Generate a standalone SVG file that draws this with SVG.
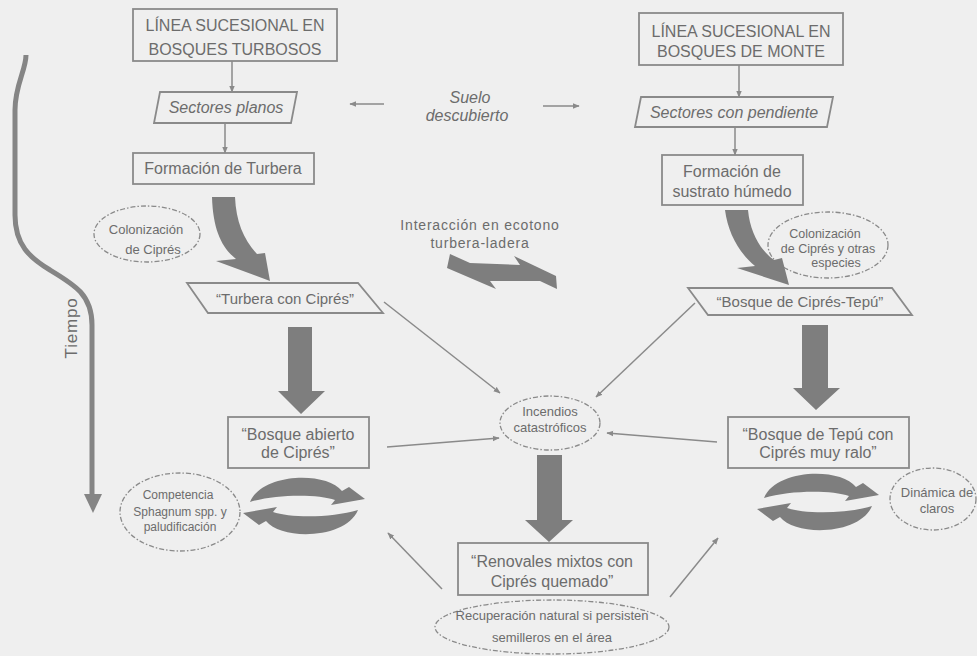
<svg xmlns="http://www.w3.org/2000/svg" width="977" height="656" viewBox="0 0 977 656">
  <style>
    .bg { fill: #efefef; }
    .box { fill: none; stroke: #8a8a8a; stroke-width: 1.8; }
    .oval { fill: none; stroke: #8a8a8a; stroke-width: 1.3; stroke-dasharray: 5 2 1.5 2; }
    .t { font-family: "Liberation Sans", Arial, sans-serif; fill: #6c6c6c; text-anchor: middle; }
    .big { font-size: 16px; }
    .it { font-style: italic; }
    .thin { fill: none; stroke: #8a8a8a; stroke-width: 1.5; marker-end: url(#head); }
    .thick { fill: #7e7e7e; }
  </style>
  <defs>
    <marker id="head" viewBox="0 0 10 10" refX="9" refY="5" markerWidth="7" markerHeight="7" markerUnits="userSpaceOnUse" orient="auto">
      <path d="M0,1 L10,5 L0,9 Z" fill="#8a8a8a"/>
    </marker>
    <!-- two curved arrows forming a cycle, centred on 0,0 -->
    <path id="half-cycle" class="thick" d="M -54,-4 C -42,-33 22,-35 38,-15 L 45,-19 L 61,-7 L 27,-1 L 31,-6 C 14,-12 -28,-12 -54,-4 Z"/>
    <g id="cycle">
      <use href="#half-cycle"/>
      <use href="#half-cycle" transform="rotate(180)"/>
    </g>
  </defs>

  <rect class="bg" x="0" y="0" width="977" height="656"/>

  <!-- time axis -->
  <g id="tiempo">
    <path d="M 26,55 C 26,70 15,85 15,110 L 15,215 C 15,245 30,258 50,270 C 75,285 92,295 92,325 L 92,497" fill="none" stroke="#858585" stroke-width="5"/>
    <polygon points="84,494 102,494 93,513" fill="#858585"/>
    <text class="t" font-size="17" letter-spacing="0.8" transform="translate(77,328) rotate(-90)">Tiempo</text>
  </g>

  <!-- left succession line -->
  <g id="linea-turbosos">
    <rect class="box" x="133" y="9" width="204" height="52"/>
    <text class="t big" x="235" y="31">LÍNEA SUCESIONAL EN</text>
    <text class="t big" x="235" y="55">BOSQUES TURBOSOS</text>
  </g>
  <g id="sectores-planos">
    <polygon class="box" points="160,92 297,92 291,123 154,123"/>
    <text class="t big it" x="226" y="113">Sectores planos</text>
  </g>
  <g id="formacion-turbera">
    <rect class="box" x="133" y="153" width="181" height="31"/>
    <text class="t big" x="223" y="174">Formación de Turbera</text>
  </g>
  <g id="colonizacion-cipres">
    <ellipse class="oval" cx="147" cy="234" rx="53" ry="28"/>
    <text class="t" font-size="13" x="146" y="234">Colonización</text>
    <text class="t" font-size="13" x="153" y="254">de Ciprés</text>
  </g>
  <g id="turbera-cipres">
    <polygon class="box" points="187,283 358,283 383,313 208,313"/>
    <text class="t" font-size="15" x="285" y="304">“Turbera con Ciprés”</text>
  </g>
  <g id="bosque-abierto">
    <rect class="box" x="228" y="417" width="141" height="51"/>
    <text class="t big" x="298" y="440">“Bosque abierto</text>
    <text class="t big" x="298" y="458">de Ciprés”</text>
  </g>
  <g id="competencia">
    <ellipse class="oval" cx="180" cy="512" rx="60" ry="39"/>
    <text class="t" font-size="12" x="178" y="499">Competencia</text>
    <text class="t" font-size="12" x="180" y="516">Sphagnum spp. y</text>
    <text class="t" font-size="12" x="180" y="531">paludificación</text>
  </g>

  <!-- centre -->
  <g id="suelo-descubierto">
    <text class="t big it" x="470" y="103">Suelo</text>
    <text class="t big it" x="467" y="121">descubierto</text>
  </g>
  <g id="ecotono">
    <text class="t" font-size="14" letter-spacing="0.8" x="480" y="230">Interacción en ecotono</text>
    <text class="t" font-size="14" letter-spacing="0.8" x="480" y="248">turbera-ladera</text>
    <path class="thick" d="M 450,254 L 470,263 L 520,265 L 514,256 L 556,276 L 557,289 L 540,281 L 490,281 L 496,289 L 447,268 Z"/>
  </g>
  <g id="incendios">
    <ellipse class="oval" cx="550" cy="423" rx="50" ry="27"/>
    <text class="t" font-size="13" x="550" y="416">Incendios</text>
    <text class="t" font-size="13" x="550" y="432">catastróficos</text>
  </g>
  <g id="renovales">
    <rect class="box" x="458" y="543" width="190" height="52"/>
    <text class="t big" x="552" y="567">“Renovales mixtos con</text>
    <text class="t big" x="552" y="587">Ciprés quemado”</text>
  </g>
  <g id="recuperacion">
    <ellipse class="oval" cx="552" cy="627" rx="117" ry="27"/>
    <text class="t" font-size="13" x="552" y="620">Recuperación natural si persisten</text>
    <text class="t" font-size="13" x="552" y="642">semilleros en el área</text>
  </g>

  <!-- right succession line -->
  <g id="linea-monte">
    <rect class="box" x="639" y="13" width="204" height="52"/>
    <text class="t big" x="741" y="37">LÍNEA SUCESIONAL EN</text>
    <text class="t big" x="741" y="57">BOSQUES DE MONTE</text>
  </g>
  <g id="sectores-pendiente">
    <polygon class="box" points="641,97 833,97 827,127 635,127"/>
    <text class="t big it" x="734" y="118">Sectores con pendiente</text>
  </g>
  <g id="formacion-sustrato">
    <rect class="box" x="662" y="155" width="141" height="50"/>
    <text class="t big" x="732" y="177">Formación de</text>
    <text class="t big" x="732" y="197">sustrato húmedo</text>
  </g>
  <g id="colonizacion-otras">
    <ellipse class="oval" cx="828" cy="245" rx="60" ry="33"/>
    <text class="t" font-size="12.5" x="825" y="238">Colonización</text>
    <text class="t" font-size="12.5" x="828" y="253">de Ciprés y otras</text>
    <text class="t" font-size="12.5" x="836" y="267">especies</text>
  </g>
  <g id="bosque-cipres-tepu">
    <polygon class="box" points="688,288 892,288 912,315 708,315"/>
    <text class="t" font-size="15" x="800" y="307">“Bosque de Ciprés-Tepú”</text>
  </g>
  <g id="bosque-tepu">
    <rect class="box" x="728" y="417" width="181" height="51"/>
    <text class="t big" x="818" y="440">“Bosque de Tepú con</text>
    <text class="t big" x="818" y="458">Ciprés muy ralo”</text>
  </g>
  <g id="dinamica-claros">
    <ellipse class="oval" cx="933" cy="499" rx="43" ry="31"/>
    <text class="t" font-size="13" x="937" y="497">Dinámica de</text>
    <text class="t" font-size="13" x="937" y="513">claros</text>
  </g>

  <!-- connectors -->
  <g id="connectors">
    <line class="thin" x1="232" y1="61" x2="232" y2="92"/>
    <line class="thin" x1="225" y1="123" x2="225" y2="153"/>
    <line class="thin" x1="739" y1="65" x2="739" y2="97"/>
    <line class="thin" x1="735" y1="127" x2="735" y2="155"/>
    <line class="thin" x1="384" y1="104" x2="350" y2="104"/>
    <line class="thin" x1="543" y1="106" x2="579" y2="106"/>
    <line class="thin" x1="384" y1="302" x2="500" y2="393"/>
    <line class="thin" x1="695" y1="303" x2="596" y2="397"/>
    <line class="thin" x1="387" y1="447" x2="499" y2="438"/>
    <line class="thin" x1="717" y1="442" x2="607" y2="433"/>
    <line class="thin" x1="442" y1="589" x2="388" y2="533"/>
    <line class="thin" x1="670" y1="597" x2="718" y2="538"/>

    <path class="thick" d="M 212,197 L 235,197 C 236,222 244,240 257,254 L 265,253 L 270,281 L 216,261 L 236,259 C 222,248 213,230 212,197 Z"/>
    <path class="thick" d="M 725,210 L 748,210 C 750,232 760,250 774,260 L 782,258 L 789,285 L 737,268 L 755,266 C 738,252 728,232 725,210 Z"/>
    <polygon class="thick" points="288,327 312,327 312,391 325,391 301,414 278,391 288,391"/>
    <polygon class="thick" points="802,325 828,325 828,388 840,388 816,410 793,388 802,388"/>
    <polygon class="thick" points="537,455 562,455 562,520 573,520 549,542 525,520 537,520"/>

    <use href="#cycle" x="304" y="506"/>
    <use href="#cycle" x="818" y="502"/>
  </g>
</svg>
